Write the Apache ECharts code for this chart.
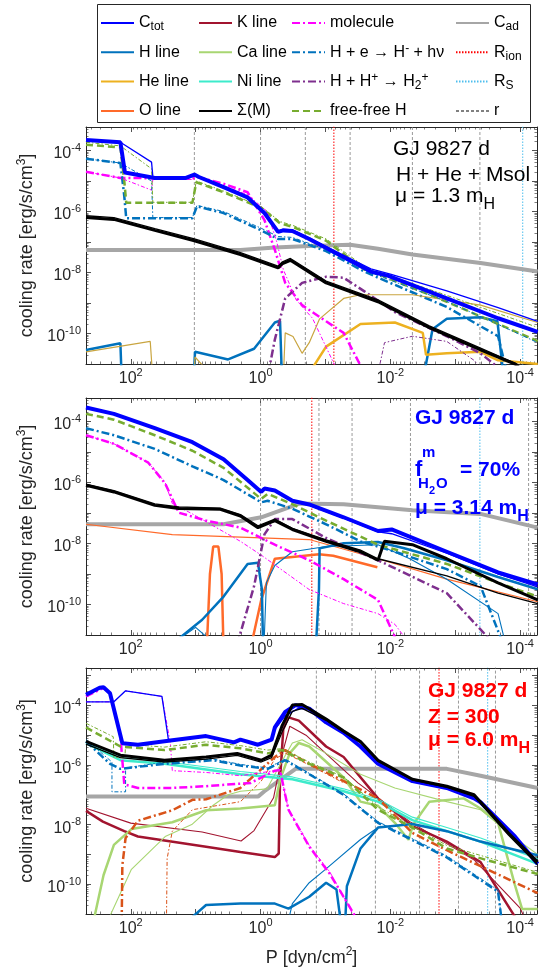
<!DOCTYPE html>
<html><head><meta charset="utf-8">
<script src="https://cdn.jsdelivr.net/npm/echarts@6/dist/echarts.min.js"></script>
<style>html,body{margin:0;padding:0;background:#fff}#c{width:540px;height:973px}</style>
</head><body><div id="c"></div>
<script>
// All curve data are [log10(P [dyn/cm2]), log10(cooling rate [erg/s/cm3])].
// ---------- Panel 1 : H + He + Msol ----------
const p1_Ctot = [[2.69,-3.66],[2.16,-3.73],[2.12,-4.3],[2.09,-4.72],[1.63,-4.9],[1.15,-4.9],[1.02,-4.79],[0.95,-4.87],[0.57,-5.2],[0.2,-5.54],[-0.06,-6.05],[-0.27,-6.67],[-0.35,-6.62],[-0.49,-6.64],[-0.75,-6.9],[-1.15,-7.35],[-1.7,-7.97],[-1.97,-8.11],[-2.87,-8.85],[-3.66,-9.5],[-4.27,-9.95]];
const p1_Ctot_b = [[2.69,-3.66],[2.16,-3.73],[1.68,-4.38],[1.66,-4.85],[1.63,-4.9],[1.15,-4.9],[1.02,-4.79],[0.95,-4.87],[0.57,-5.2],[0.2,-5.54],[-0.06,-6.05],[-0.27,-6.64],[-0.35,-6.58],[-0.49,-6.6],[-0.75,-6.86],[-1.15,-7.3],[-1.7,-7.88],[-2.0,-8.05],[-2.87,-8.6],[-3.66,-9.15],[-4.27,-9.6]];
const p1_ff = [[2.69,-3.81],[2.16,-3.9],[2.1,-5.0],[2.07,-5.71],[1.05,-5.71],[0.99,-5.04],[0.57,-5.37],[-0.01,-5.88],[-0.3,-6.39],[-0.49,-6.5],[-1.01,-6.96],[-1.6,-7.9],[-1.81,-8.05],[-2.87,-8.96],[-4.27,-10.25]];
const p1_ff_b = [[2.69,-3.73],[2.16,-3.85],[1.68,-4.6],[1.66,-5.7],[1.05,-5.7],[0.99,-5.0],[0.57,-5.33],[-0.01,-5.84],[-0.3,-6.33],[-0.49,-6.45],[-1.01,-6.9],[-1.6,-7.8],[-1.81,-7.98],[-2.87,-8.75],[-4.27,-9.8]];
const p1_Hm = [[2.69,-4.27],[2.16,-4.41],[2.1,-5.5],[2.07,-6.22],[1.05,-6.22],[0.98,-5.83],[0.57,-6.05],[-0.01,-6.62],[-0.27,-6.9],[-0.49,-6.9],[-1.01,-7.3],[-1.6,-7.97],[-1.81,-8.17],[-2.87,-9.13],[-3.66,-10.09],[-3.8,-11.3]];
const p1_Hm_b = [[2.69,-4.27],[2.16,-4.41],[1.68,-5.0],[1.66,-6.2],[1.05,-6.2],[0.98,-5.8],[0.57,-6.0],[-0.01,-6.55],[-0.27,-6.82],[-0.49,-6.85],[-1.01,-7.25],[-1.6,-7.9],[-1.81,-8.1],[-2.87,-8.95],[-3.66,-9.7],[-4.27,-10.3]];
const p1_mol = [[2.69,-4.7],[2.16,-4.9],[1.05,-4.92],[0.97,-4.87],[0.57,-5.09],[0.2,-5.37],[-0.06,-6.28],[-0.22,-7.26],[-0.38,-8.34],[-0.64,-9.07],[-1.01,-9.6],[-1.28,-9.98],[-1.6,-11.3]];
const p1_mol_b = [[2.69,-4.7],[2.16,-4.9],[1.68,-5.3],[1.66,-4.95],[1.05,-4.95],[0.97,-4.85],[0.2,-5.45],[-0.1,-6.0],[-0.25,-7.0],[-0.35,-7.9],[-0.55,-8.9],[-0.8,-9.5],[-1.2,-11.3]];
const p1_Sig = [[2.69,-6.2],[2.26,-6.26],[1.63,-6.62],[1.02,-6.96],[0.31,-7.41],[-0.27,-7.85],[-0.33,-7.72],[-0.46,-7.6],[-1.01,-8.34],[-1.81,-8.96],[-2.6,-9.81],[-3.39,-10.54],[-3.92,-11.0],[-4.1,-11.3]];
const p1_Sig_b = [[2.69,-6.14],[2.26,-6.2],[1.63,-6.56],[1.02,-6.9],[0.31,-7.35],[-0.27,-7.79],[-0.33,-7.66],[-0.46,-7.54],[-1.01,-8.28],[-1.81,-8.9],[-2.6,-9.75],[-3.39,-10.48],[-3.95,-11.0],[-4.15,-11.3]];
const p1_Cad = [[2.69,-7.26],[0.31,-7.26],[-0.22,-7.18],[-0.75,-7.13],[-1.38,-7.09],[-1.81,-7.22],[-2.34,-7.41],[-3.39,-7.69],[-4.27,-7.97]];
const p1_H2p = [[-0.12,-11.3],[-0.22,-10.2],[-0.38,-8.85],[-0.64,-8.34],[-1.01,-8.14],[-1.28,-8.17],[-1.6,-8.62],[-2.07,-9.3],[-2.87,-10.09],[-3.39,-10.65],[-3.77,-11.3]];
const p1_H2p_b = [[-1.81,-11.3],[-1.91,-10.3],[-2.34,-10.09],[-2.87,-10.26],[-3.29,-10.88],[-3.45,-11.3]];
const p1_He = [[-0.75,-11.3],[-1.01,-10.43],[-1.54,-9.69],[-2.07,-9.64],[-2.5,-9.98],[-2.55,-10.7],[-2.87,-10.65],[-3.39,-10.6],[-3.66,-10.88],[-4.27,-11.0]];
const p1_He_b = [[2.69,-10.6],[1.7,-10.26],[1.66,-11.5],[1.03,-11.5],[1.01,-10.77],[0.7,-11.5],[-0.35,-11.5],[-0.38,-9.98],[-0.5,-10.1],[-0.64,-10.65],[-0.75,-10.3],[-0.91,-9.52],[-1.28,-8.85],[-1.54,-8.73],[-2.34,-8.73],[-3.39,-9.07],[-4.27,-9.64]];
const p1_H = [[2.69,-10.54],[2.16,-10.32],[2.14,-11.5],[1.03,-11.5],[1.01,-10.6],[0.5,-10.85],[0.1,-10.5],[-0.22,-9.64],[-0.3,-9.58],[-0.33,-11.5],[-2.5,-11.5],[-2.55,-11],[-2.65,-9.86],[-2.87,-9.52],[-3.39,-9.47],[-3.65,-9.6],[-3.75,-11.5]];
const p1_r = [1.02, 0, -0.69, -1.38, -2.34, -3.38];
const p1_Rion = [-1.13];
const p1_RS = [-4.04];
// ---------- Panel 2 : f_H2O = 70% ----------
const p2_Ctot = [[2.69,-3.54],[2.26,-3.75],[1.63,-4.22],[1.05,-4.68],[0.57,-5.24],[0.2,-5.92],[-0.01,-6.31],[-0.06,-6.2],[-0.22,-6.26],[-0.49,-6.6],[-0.75,-6.72],[-1.28,-7.14],[-1.81,-7.59],[-2.02,-7.54],[-2.87,-8.27],[-3.66,-8.95],[-4.27,-9.34]];
const p2_Ctot_b = [[2.69,-3.54],[2.26,-3.75],[1.63,-4.22],[1.05,-4.68],[0.57,-5.24],[0.2,-5.92],[-0.01,-6.31],[-0.06,-6.22],[-0.22,-6.28],[-0.49,-6.62],[-0.75,-6.75],[-1.28,-7.17],[-1.81,-7.62],[-2.02,-7.68],[-2.87,-8.32],[-3.66,-9.0],[-4.27,-9.42]];
const p2_ff = [[2.69,-3.75],[2.26,-3.94],[1.63,-4.45],[1.05,-4.96],[0.57,-5.52],[-0.01,-6.54],[-0.11,-6.37],[-0.49,-6.71],[-1.01,-7.25],[-1.81,-8.04],[-2.87,-8.67],[-3.66,-9.29],[-4.27,-9.74]];
const p2_Hm = [[2.69,-4.22],[2.26,-4.45],[1.63,-4.9],[1.05,-5.47],[0.57,-5.92],[-0.01,-6.65],[-0.11,-6.6],[-0.49,-6.86],[-1.01,-7.37],[-1.54,-7.93],[-2.07,-8.27],[-2.87,-8.84],[-3.39,-9.4],[-3.74,-11.3]];
const p2_H = [[1.48,-11.5],[0.9,-10.5],[0.57,-9.74],[0.2,-8.67],[0.04,-8.63],[-0.02,-9.5],[-0.04,-11.5],[-0.85,-11.5],[-0.9,-9.5],[-0.91,-8.16],[-1.28,-7.99],[-1.81,-7.95],[-2.2,-8.15],[-2.87,-8.55],[-3.66,-9.1],[-4.27,-9.5]];
const p2_H_b = [[1.5,-11.5],[1.0,-10.75],[0.6,-11.5],[-0.05,-11.5],[-0.09,-9.29],[-0.22,-8.72],[-0.49,-8.27],[-1.01,-8.1],[-1.81,-8.04],[-2.3,-8.5],[-2.87,-9.17],[-3.66,-10.3],[-3.8,-11.5]];
const p2_mol = [[2.69,-4.45],[2.26,-4.73],[1.73,-5.35],[1.47,-6.03],[1.26,-6.99],[0.84,-7.25],[0.31,-7.48],[-0.22,-8.04],[-0.75,-8.55],[-1.28,-9.17],[-1.81,-9.85],[-2.12,-11.3]];
const p2_mol_b = [[2.69,-4.45],[2.26,-4.73],[1.73,-5.35],[1.47,-6.0],[1.36,-6.69],[1.05,-7.03],[0.31,-7.93],[-0.01,-8.38],[-0.75,-9.51],[-1.28,-9.97],[-1.81,-10.3],[-2.07,-10.65],[-2.3,-11.3]];
const p2_Sig = [[2.69,-6.09],[2.26,-6.31],[1.63,-6.75],[1.26,-6.85],[0.62,-6.88],[0.31,-7.1],[0.04,-7.48],[-0.22,-7.25],[-0.49,-7.54],[-1.01,-7.93],[-1.54,-8.27],[-1.81,-8.55],[-1.91,-7.93],[-2.34,-8.04],[-2.87,-8.5],[-3.66,-9.29],[-4.27,-9.85]];
const p2_Sig_b = [[2.69,-6.05],[2.26,-6.27],[1.63,-6.7],[1.26,-6.8],[0.62,-6.84],[0.31,-7.05],[0.04,-7.42],[-0.22,-7.2],[-0.49,-7.5],[-1.01,-7.88],[-1.54,-8.22],[-1.81,-8.5],[-2.87,-9.06],[-3.66,-9.63],[-4.27,-9.97]];
const p2_Cad = [[2.69,-7.37],[0.57,-7.37],[-0.01,-7.14],[-0.6,-6.69],[-1.28,-6.71],[-2.34,-6.91],[-3.39,-7.03],[-4.27,-7.48]];
const p2_O = [[0.83,-11.5],[0.78,-9],[0.73,-8.1],[0.65,-8.1],[0.6,-9],[0.57,-11.5],[0.16,-11.5],[-0.01,-9.85],[-0.22,-8.5],[-0.49,-8.44],[-0.9,-8.35],[-1.12,-8.4],[-1.8,-8.78]];
const p2_O_b = [[2.69,-7.37],[1.36,-7.71],[-0.75,-7.87],[-1.81,-8.5],[-2.87,-9.17],[-4.27,-9.91]];
const p2_H2p = [[0.36,-11.3],[0.1,-9.4],[-0.06,-7.7],[-0.22,-7.2],[-0.49,-7.2],[-1.01,-7.82],[-1.81,-8.55],[-2.87,-9.63],[-3.6,-11.3]];
const p2_r = [0, -0.9, -1.41, -2.31, -4.13];
const p2_Rion = [-0.79];
const p2_RS = [-3.38];
// ---------- Panel 3 : Z = 300 ----------
const p3_Ctot = [[2.69,-3.64],[2.48,-3.41],[2.42,-3.39],[2.32,-3.59],[2.13,-5.27],[1.89,-5.32],[1.36,-5.17],[0.84,-5.03],[0.41,-5.24],[0.31,-5.15],[0.04,-5.32],[-0.17,-5.15],[-0.22,-4.74],[-0.38,-4.22],[-0.54,-3.99],[-0.75,-4.11],[-1.01,-4.57],[-1.28,-4.92],[-1.54,-5.38],[-1.81,-5.96],[-2.34,-6.54],[-2.87,-6.77],[-3.29,-7.12],[-3.39,-7.25],[-3.92,-8.4],[-4.27,-9.32]];
const p3_Ctot_b = [[2.69,-3.88],[2.26,-3.88],[2.08,-3.51],[1.52,-3.7],[1.42,-5.15],[1.36,-5.17],[0.84,-5.03],[0.41,-5.24],[0.31,-5.15],[0.04,-5.32],[-0.17,-5.15],[-0.22,-4.8],[-0.38,-4.35],[-0.58,-4.1],[-0.75,-4.15],[-1.01,-4.57],[-1.28,-4.92],[-1.54,-5.38],[-1.81,-5.96],[-2.34,-6.54],[-2.87,-6.77],[-3.29,-7.12],[-3.39,-7.25],[-3.92,-8.4],[-4.27,-9.32]];
const p3_mol = [[2.69,-3.7],[2.42,-3.41],[2.32,-3.59],[2.16,-5.03],[2.1,-6.65],[1.89,-6.77],[1.36,-6.77],[0.84,-6.71],[0.15,-6.6],[-0.22,-6.19],[-0.3,-6.17],[-0.38,-7.0],[-0.43,-7.5],[-0.75,-8.74],[-1.07,-9.66],[-1.52,-11.3]];
const p3_mol_b = [[2.69,-3.88],[2.26,-3.88],[2.08,-3.51],[1.52,-3.7],[1.39,-5.27],[1.36,-6.19],[0.84,-6.25],[0.31,-6.36],[-0.22,-6.19],[-0.3,-6.17],[-0.38,-7.0],[-0.43,-7.5],[-0.75,-8.7],[-1.07,-9.6],[-1.5,-11.3]];
const p3_Sig = [[2.69,-5.21],[2.16,-5.67],[1.48,-5.84],[0.84,-5.73],[0.36,-5.61],[-0.01,-5.84],[-0.17,-5.67],[-0.33,-4.69],[-0.49,-3.99],[-0.64,-3.97],[-1.01,-4.46],[-1.28,-4.86],[-1.54,-5.21],[-1.81,-5.84],[-2.34,-6.48],[-2.87,-6.71],[-3.29,-7.0],[-3.82,-8.28],[-4.27,-9.26]];
const p3_Sig_b = [[2.69,-5.3],[2.16,-5.75],[1.48,-5.9],[0.84,-5.8],[0.36,-5.68],[-0.01,-5.9],[-0.17,-5.75],[-0.33,-4.9],[-0.49,-4.2],[-0.64,-4.1],[-1.01,-4.5],[-1.28,-4.9],[-1.54,-5.25],[-1.81,-5.88],[-2.34,-6.5],[-2.87,-6.75],[-3.29,-7.05],[-3.82,-8.35],[-4.27,-9.35]];
const p3_ff = [[2.69,-4.74],[2.16,-5.38],[1.48,-5.5],[0.84,-5.32],[0.31,-5.44],[-0.11,-5.61],[-0.33,-5.5],[-0.75,-5.96],[-1.28,-6.42],[-1.81,-7.5],[-2.34,-8.1],[-2.87,-8.8],[-3.5,-9.2],[-4.27,-9.66]];
const p3_ff_b = [[2.69,-4.6],[2.27,-5.05],[2.26,-5.75],[2.09,-5.75],[2.08,-5.3],[1.48,-5.4],[0.84,-5.22],[0.31,-5.35],[-0.11,-5.5],[-0.33,-5.45],[-0.75,-5.9],[-1.28,-6.4],[-1.81,-7.4],[-2.87,-8.7],[-4.27,-9.6]];
const p3_Hm = [[2.69,-5.21],[2.32,-5.96],[2.16,-6.13],[1.48,-5.96],[0.73,-5.84],[0.31,-6.02],[-0.11,-6.13],[-0.38,-5.84],[-0.75,-6.31],[-1.28,-7.0],[-1.81,-7.94],[-2.87,-9.1],[-3.66,-10.25],[-3.72,-11.3]];
const p3_Hm_b = [[2.69,-5.15],[2.29,-5.9],[2.29,-6.9],[2.08,-6.9],[2.08,-6.1],[1.48,-5.9],[0.73,-5.8],[0.31,-5.98],[-0.11,-6.1],[-0.38,-5.8],[-0.75,-6.28],[-1.28,-6.97],[-1.81,-7.9],[-2.87,-9.05],[-3.66,-10.2],[-3.72,-11.3]];
const p3_Ni = [[2.69,-5.27],[2.16,-5.84],[1.48,-5.96],[0.31,-6.31],[-0.49,-6.48],[-1.28,-6.88],[-1.81,-7.23],[-2.34,-7.85],[-2.87,-8.22],[-3.39,-8.57],[-4.27,-9.32]];
const p3_Ni_b = [[2.69,-5.2],[2.16,-5.75],[1.48,-5.88],[0.31,-6.22],[-0.49,-6.4],[-1.28,-6.8],[-1.81,-7.15],[-2.34,-7.75],[-2.87,-8.1],[-3.39,-8.45],[-4.27,-9.15]];
const p3_K = [[2.69,-7.54],[2.43,-7.9],[2.1,-8.22],[1.89,-8.4],[0.84,-8.74],[0.31,-8.92],[-0.22,-9.09],[-0.28,-8.97],[-0.3,-6.5],[-0.35,-4.8],[-0.43,-4.4],[-0.59,-4.51],[-1.01,-5.38],[-1.28,-5.73],[-1.81,-7.12],[-2.34,-8.05],[-2.87,-8.57],[-3.39,-9.26],[-3.98,-11.3]];
const p3_K_b = [[2.69,-7.45],[2.0,-7.95],[0.9,-8.25],[0.3,-8.55],[0.1,-8.2],[-0.2,-7.1],[-0.35,-5.5],[-0.45,-4.7],[-0.7,-5.0],[-1.0,-5.6],[-1.5,-6.6],[-2.3,-7.9],[-3.3,-9.2],[-4.0,-10.8],[-4.1,-11.3]];
const p3_Ca = [[2.58,-11.3],[2.42,-9.7],[2.26,-8.68],[1.99,-8.15],[1.36,-7.92],[0.84,-7.52],[0.31,-7.46],[-0.22,-7.35],[-0.3,-6.5],[-0.45,-5.6],[-0.59,-5.26],[-0.75,-5.38],[-1.28,-6.42],[-1.54,-7.23],[-1.81,-7.37],[-2.07,-7.94],[-2.28,-8.51],[-2.35,-8.0],[-2.6,-7.23],[-3.13,-7.12],[-3.39,-7.46],[-3.66,-7.94],[-3.92,-10.03],[-4.03,-10.83],[-4.27,-10.83]];
const p3_Ca_b = [[2.37,-11.3],[1.99,-9.5],[1.47,-8.4],[1.06,-8.0],[0.73,-7.35],[0.5,-7.0],[0.31,-6.88],[-0.1,-6.8],[-0.35,-5.8],[-0.49,-5.26],[-0.64,-5.15],[-1.01,-5.61],[-1.54,-6.31],[-2.07,-6.77],[-2.87,-7.23],[-3.39,-7.5],[-3.92,-8.45],[-4.27,-9.0]];
const p3_extra = [[2.14,-11.3],[2.13,-9.37],[2.08,-8.45],[1.89,-7.87],[1.36,-7.52],[1.05,-7.17],[0.84,-7.15],[0.31,-6.77],[-0.22,-5.73],[-0.38,-5.5],[-0.75,-5.96],[-1.28,-6.54],[-1.81,-7.12],[-2.34,-8.28],[-2.87,-8.86],[-4.27,-10.3]];
const p3_extra_b = [[1.45,-11.3],[1.44,-9.14],[1.36,-8.22],[1.05,-7.5],[0.31,-7.23],[-0.01,-6.54],[-0.22,-5.8],[-0.38,-5.6],[-0.75,-6.0],[-1.28,-6.6]];
const p3_H = [[1.26,-11.5],[0.84,-10.7],[0.31,-10.65],[-0.22,-10.65],[-0.43,-10.82],[-0.75,-10.42],[-1.01,-9.95],[-1.17,-10.18],[-1.25,-11.5],[-1.3,-11.5],[-1.33,-10.07],[-1.54,-8.8],[-1.81,-8.1],[-2.34,-7.98],[-2.87,-8.22],[-3.39,-8.57],[-4.27,-9.03]];
const p3_H_b = [[-0.4,-11.5],[-0.49,-10.65],[-0.75,-9.95],[-1.0,-9.5],[-1.54,-8.5],[-1.81,-8.1]];
const p3_Cad = [[2.69,-7.06],[0.04,-7.06],[-0.06,-6.88],[-0.54,-6.13],[-2.87,-6.13],[-3.39,-6.36],[-4.27,-6.77]];
const p3_r = [-0.86, -1.77, -2.45, -3.05, -3.62];
const p3_Rion = [-2.75];
const p3_RS = [-3.5];
// axis ranges (log10)
const xLogRange = [-4.26, 2.69];
const yLogTop = [-3.23, -3.23, -2.745];
const yLogBottom = -11;

const FONT = '"Liberation Sans", Arial, Helvetica, sans-serif';
const AX = '#262626';
const DD = [8, 3, 2, 3], DDt = [4, 2, 1.5, 2], DA = [7, 4];
const S = {
  ctot:{color:'#0000FF',width:4}, ctotT:{color:'#0000FF',width:1.3},
  h:{color:'#0072BD',width:2.5}, hT:{color:'#0072BD',width:1.1},
  he:{color:'#EDB120',width:2.5}, heT:{color:'#C9A540',width:1.2},
  o:{color:'#FF6A2A',width:2.5}, oT:{color:'#FF6A2A',width:1.2},
  k:{color:'#A2142F',width:2.5}, kT:{color:'#A2142F',width:1.1},
  ca:{color:'#A8D672',width:2.5}, caT:{color:'#A8D672',width:1.1},
  ni:{color:'#3DEBCB',width:2.5}, niT:{color:'#3DEBCB',width:1.1},
  sig:{color:'#000000',width:3}, sigT:{color:'#000000',width:1.3},
  mol:{color:'#FF00FF',width:2.5,type:DD}, molT:{color:'#FF00FF',width:1,type:DDt},
  hm:{color:'#0072BD',width:2.5,type:DD}, hmT:{color:'#0072BD',width:1,type:DDt},
  h2p:{color:'#7E2F8E',width:2.5,type:DD}, h2pT:{color:'#7E2F8E',width:1,type:DDt},
  ff:{color:'#77AC30',width:2.5,type:DA}, ffT:{color:'#77AC30',width:1,type:DDt},
  cad:{color:'#A6A6A6',width:4},
  ex:{color:'#D95319',width:2.5,type:DD}, exT:{color:'#D95319',width:1,type:DDt},
  rion:{color:'#FF0000',width:1,type:[1.5,1.5]},
  rs:{color:'#4DBEEE',width:1,type:[1.5,1.5]},
  r:{color:'#808080',width:0.8,type:[3,2]}
};
const toXY = a => a.map(([lp, lc]) => [Math.pow(10, lp), Math.pow(10, lc)]);
const series = [];
function line(name, p, arr, st, z) {
  series.push({name, type:'line', xAxisIndex:p, yAxisIndex:p, data:toXY(arr), symbol:'none', showSymbol:false,
    lineStyle:{color:st.color, width:st.width, type:st.type||'solid'}, itemStyle:{color:st.color},
    silent:true, animation:false, clip:true, z:z||3});
}
// vertical marker lines: one two-point series per marker position, spanning beyond the y range (clipped)
function vlines(name, p, arr, st) {
  arr.forEach(v => line(name, p, [[v, -13], [v, 1]], st, 1));
}
// legend-order first occurrences (thick styles)
line('C_tot',0,p1_Ctot,S.ctot,6);
line('H line',0,p1_H,S.h);
line('He line',0,p1_He,S.he);
line('Σ(M)',0,p1_Sig,S.sig,7);
line('molecule',0,p1_mol,S.mol);
line('H-',0,p1_Hm,S.hm);
line('H2+',0,p1_H2p,S.h2p);
line('free-free H',0,p1_ff,S.ff);
line('C_ad',0,p1_Cad,S.cad,2);
vlines('R_ion',0,p1_Rion,S.rion);
vlines('R_S',0,p1_RS,S.rs);
vlines('r',0,p1_r,S.r);
line('C_tot',0,p1_Ctot_b,S.ctotT,6);
line('He line',0,p1_He_b,S.heT);
line('Σ(M)',0,p1_Sig_b,S.sigT,7);
line('molecule',0,p1_mol_b,S.molT);
line('H-',0,p1_Hm_b,S.hmT);
line('H2+',0,p1_H2p_b,S.h2pT);
line('free-free H',0,p1_ff_b,S.ffT);
// panel 2
line('C_ad',1,p2_Cad,S.cad,2);
line('O line',1,p2_O,S.o);
line('O line',1,p2_O_b,S.oT);
line('H line',1,p2_H,S.h);
line('H line',1,p2_H_b,S.hT);
line('molecule',1,p2_mol,S.mol);
line('molecule',1,p2_mol_b,S.molT);
line('H-',1,p2_Hm,S.hm);
line('H2+',1,p2_H2p,S.h2p);
line('free-free H',1,p2_ff,S.ff);
line('C_tot',1,p2_Ctot,S.ctot,6);
line('C_tot',1,p2_Ctot_b,S.ctotT,6);
line('Σ(M)',1,p2_Sig,S.sig,7);
line('Σ(M)',1,p2_Sig_b,S.sigT,7);
vlines('R_ion',1,p2_Rion,S.rion);
vlines('R_S',1,p2_RS,S.rs);
vlines('r',1,p2_r,S.r);
// panel 3
line('C_ad',2,p3_Cad,S.cad,2);
line('K line',2,p3_K,S.k);
line('K line',2,p3_K_b,S.kT);
line('Ca line',2,p3_Ca,S.ca);
line('Ca line',2,p3_Ca_b,S.caT);
line('Ni line',2,p3_Ni,S.ni);
line('Ni line',2,p3_Ni_b,S.niT);
line('other',2,p3_extra,S.ex);
line('other',2,p3_extra_b,S.exT);
line('H line',2,p3_H,S.h);
line('H line',2,p3_H_b,S.hT);
line('molecule',2,p3_mol,S.mol);
line('molecule',2,p3_mol_b,S.molT);
line('H-',2,p3_Hm,S.hm);
line('H-',2,p3_Hm_b,S.hmT);
line('free-free H',2,p3_ff,S.ff);
line('free-free H',2,p3_ff_b,S.ffT);
line('C_tot',2,p3_Ctot,S.ctot,6);
line('C_tot',2,p3_Ctot_b,S.ctotT,6);
line('Σ(M)',2,p3_Sig,S.sig,7);
line('Σ(M)',2,p3_Sig_b,S.sigT,7);
vlines('R_ion',2,p3_Rion,S.rion);
vlines('R_S',2,p3_RS,S.rs);
vlines('r',2,p3_r,S.r);

const grids = [
  {left:86, right:1, top:127, height:237},
  {left:86, right:1, top:398, height:237},
  {left:86, right:1, top:668, height:246}
];
const tickRich = {
  b:{fontSize:16, fontFamily:FONT, color:AX, lineHeight:16, padding:[7,0,0,0]},
  e:{fontSize:11, fontFamily:FONT, color:AX, lineHeight:12, verticalAlign:'top'}
};
function pow10Label(v) {
  const e = Math.log10(v), r = Math.round(e);
  if (Math.abs(e - r) > 1e-3 || r % 2 !== 0) return '';
  return '{b|10}{e|' + r + '}';
}
const xAxes = [], yAxes = [];
for (let i = 0; i < 3; i++) {
  const base = {type:'log', logBase:10, gridIndex:i, splitLine:{show:false}, minorSplitLine:{show:false},
    axisLine:{show:true, onZero:false, lineStyle:{color:AX, width:1}},
    axisTick:{show:true, inside:true, length:5, lineStyle:{color:AX, width:0.8}},
    minorTick:{show:true, splitNumber:9, length:2.5, lineStyle:{color:AX, width:0.6}}};
  const xb = Object.assign({}, base, {inverse:true, min:Math.pow(10,xLogRange[0]), max:Math.pow(10,xLogRange[1])});
  const yb = Object.assign({}, base, {min:Math.pow(10,yLogBottom), max:Math.pow(10,yLogTop[i])});
  xAxes.push(Object.assign({}, xb, {position:'bottom', axisLabel:{formatter:pow10Label, rich:tickRich, margin:3},
    name: i === 2 ? '{a|P [dyn/cm}{s|2}{a|]}' : '', nameLocation:'middle', nameGap:32,
    nameTextStyle:{rich:{a:{fontSize:18, fontFamily:FONT, color:AX, lineHeight:18, padding:[6,0,0,0]}, s:{fontSize:12, fontFamily:FONT, color:AX, lineHeight:12, verticalAlign:'top'}}}}));
  yAxes.push(Object.assign({}, yb, {position:'left', axisLabel:{formatter:pow10Label, rich:tickRich, margin:5},
    name:'{a|cooling rate [erg/s/cm}{s|3}{a|]}', nameLocation:'middle', nameGap:52, nameRotate:90,
    nameTextStyle:{rich:{a:{fontSize:18, fontFamily:FONT, color:AX, lineHeight:18, padding:[6,0,0,0]}, s:{fontSize:12, fontFamily:FONT, color:AX, lineHeight:12, verticalAlign:'top'}}}}));
}
for (let i = 0; i < 3; i++) {
  xAxes.push(Object.assign({}, xAxes[i], {position:'top', axisLabel:{show:false}, name:''}));
  yAxes.push(Object.assign({}, yAxes[i], {position:'right', axisLabel:{show:false}, name:''}));
}
const LEG = {
  'C_tot':'C{sub|tot}', 'C_ad':'C{sub|ad}', 'R_ion':'R{sub|ion}', 'R_S':'R{sub|S}',
  'H-':'H + e → H{sup|-} + hν', 'H2+':'H + H{sup|+} → H{sub|2}{sup|+}'
};
const legRich = {
  sub:{fontSize:12, fontFamily:FONT, color:'#000', lineHeight:10, verticalAlign:'bottom'},
  sup:{fontSize:12, fontFamily:FONT, color:'#000', lineHeight:10, verticalAlign:'top'}
};
function legend(data, left) {
  return {data, left, top:13, orient:'vertical', itemWidth:33, itemHeight:14, itemGap:9.3, selectedMode:false,
    padding:0, formatter: n => LEG[n] || n,
    itemStyle:{color:'rgba(0,0,0,0)', borderColor:'rgba(0,0,0,0)', borderWidth:0, opacity:0},
    textStyle:{fontSize:16, fontFamily:FONT, color:'#000', lineHeight:20, rich:legRich}};
}
const legends = [
  legend(['C_tot','H line','He line','O line'], 100),
  legend(['K line','Ca line','Ni line','Σ(M)'], 198),
  legend(['molecule','H-','H2+','free-free H'], 291),
  legend(['C_ad','R_ion','R_S','r'], 455)
];
function subText(x, y, main, sub, color, weight) {
  return {type:'text', x, y: y - 12, z:10, style:{text:'{a|' + main + '}{s|' + sub + '}', align:'left', verticalAlign:'top',
    rich:{a:{fontSize:21, fontFamily:FONT, fontWeight:weight, fill:color, lineHeight:24, padding:[0,0,10,0]},
          s:{fontSize:16, fontFamily:FONT, fontWeight:weight, fill:color, lineHeight:16, verticalAlign:'bottom'}}}};
}
function txt(x, y, t, color, size, weight) {
  return {type:'text', x, y, z:10, style:{text:t, fill:color, fontSize:size, fontFamily:FONT, fontWeight:weight, align:'left', verticalAlign:'middle'}};
}
const graphics = [
  {type:'rect', z:-1, shape:{x:97.5, y:4.5, width:433, height:118}, style:{fill:'none', stroke:AX, lineWidth:1}},
  txt(393, 149, 'GJ 9827 d', '#000', 21, 'normal'),
  txt(396, 175, 'H + He + Msol', '#000', 21, 'normal'),
  subText(395, 201, 'μ = 1.3 m', 'H', '#000', 'normal'),
  txt(415, 418, 'GJ 9827 d', '#0000FF', 21, 'bold'),
  txt(415, 470, 'f', '#0000FF', 22, 'bold'),
  txt(422, 453, 'm', '#0000FF', 15, 'bold'),
  txt(418, 484, 'H', '#0000FF', 15, 'bold'),
  txt(429, 491, '2', '#0000FF', 11, 'bold'),
  txt(436, 484, 'O', '#0000FF', 15, 'bold'),
  txt(460, 470, '= 70%', '#0000FF', 21, 'bold'),
  subText(415, 513, 'μ = 3.14 m', 'H', '#0000FF', 'bold'),
  txt(428, 691, 'GJ 9827 d', '#FF0000', 21, 'bold'),
  txt(428, 717, 'Z = 300', '#FF0000', 21, 'bold'),
  subText(428, 745, 'μ = 6.0 m', 'H', '#FF0000', 'bold')
];
const chart = echarts.init(document.getElementById('c'), null, {renderer:'canvas'});
chart.setOption({
  animation:false, backgroundColor:'#fff', textStyle:{fontFamily:FONT},
  grid:grids, xAxis:xAxes, yAxis:yAxes, legend:legends, series, graphic:graphics
});
</script></body></html>
